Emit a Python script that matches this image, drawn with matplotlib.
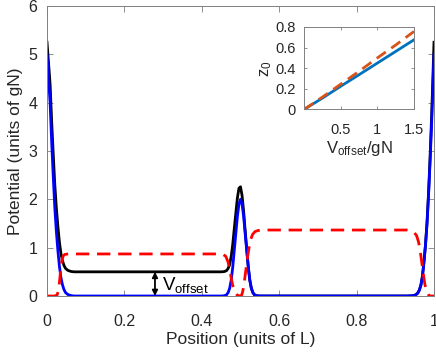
import matplotlib
matplotlib.use("Agg")
import matplotlib.pyplot as plt

plt.rcParams['font.family'] = ['Liberation Sans', 'DejaVu Sans']
plt.rcParams['mathtext.fontset'] = 'custom'
plt.rcParams['mathtext.rm'] = 'Liberation Sans'
plt.rcParams['mathtext.it'] = 'Liberation Sans'

# ---- main panel data ----
x_blue = [0.0, 0.004, 0.008, 0.012, 0.016, 0.020, 0.024, 0.028, 0.032, 0.036, 0.040, 0.044, 0.048,
          0.054, 0.062, 0.070,
          0.450, 0.458, 0.464, 0.468, 0.472, 0.476, 0.480, 0.484, 0.488, 0.492, 0.496, 0.500,
          0.504, 0.508, 0.512, 0.516, 0.520, 0.524, 0.528, 0.532, 0.536, 0.542, 0.550,
          0.930, 0.945, 0.952, 0.958, 0.962, 0.966, 0.970, 0.974, 0.978, 0.982, 0.986, 0.990,
          0.994, 0.997, 1.0]
v_blue = [5.0, 4.5, 4.0, 3.2, 2.5, 1.85, 1.35, 0.95, 0.62, 0.38, 0.23, 0.13, 0.07,
          0.03, 0.008, 0.0,
          0.0, 0.005, 0.025, 0.07, 0.16, 0.33, 0.6, 0.95, 1.3, 1.65, 1.9, 2.0,
          1.9, 1.65, 1.3, 0.95, 0.6, 0.33, 0.16, 0.07, 0.025, 0.005, 0.0,
          0.0, 0.005, 0.02, 0.06, 0.12, 0.22, 0.4, 0.7, 1.05, 1.5, 2.1, 2.8,
          3.6, 4.3, 5.0]

x_black = [0.0, 0.004, 0.008, 0.012, 0.016, 0.020, 0.024, 0.028, 0.032, 0.036, 0.040, 0.044, 0.048,
           0.054, 0.062, 0.070,
           0.450, 0.458, 0.464, 0.468, 0.472, 0.476, 0.480, 0.484, 0.488, 0.492, 0.496, 0.500,
           0.504, 0.508, 0.512, 0.516, 0.520, 0.524, 0.528, 0.532, 0.536, 0.542, 0.550,
           0.930, 0.945, 0.952, 0.958, 0.962, 0.966, 0.970, 0.974, 0.978, 0.982, 0.986, 0.990,
           0.994, 0.997, 1.0]
v_black = [5.25, 4.82, 4.38, 3.62, 2.95, 2.32, 1.84, 1.45, 1.12, 0.88, 0.73, 0.63, 0.57,
           0.53, 0.508, 0.5,
           0.5, 0.505, 0.525, 0.57, 0.65, 0.82, 1.07, 1.40, 1.72, 2.03, 2.23, 2.26,
           2.08, 1.76, 1.36, 0.98, 0.61, 0.33, 0.16, 0.07, 0.025, 0.005, 0.0,
           0.0, 0.005, 0.02, 0.06, 0.12, 0.22, 0.4, 0.7, 1.06, 1.53, 2.15, 2.9,
           3.75, 4.48, 5.25]

x_red = [0.0, 0.020, 0.026, 0.030, 0.033, 0.036, 0.039, 0.042, 0.046, 0.055,
         0.440, 0.455, 0.462, 0.468, 0.473, 0.479, 0.484, 0.490, 0.495, 0.500,
         0.503, 0.506, 0.510, 0.514, 0.518, 0.522, 0.526, 0.531, 0.537, 0.545, 0.560,
         0.930, 0.940, 0.948, 0.955, 0.960, 0.964, 0.968, 0.972, 0.976, 0.980, 0.985, 0.990, 1.0]
v_red = [0.0, 0.0, 0.02, 0.12, 0.35, 0.6, 0.76, 0.83, 0.86, 0.87,
         0.87, 0.86, 0.82, 0.7, 0.5, 0.25, 0.1, 0.03, 0.005, 0.0,
         0.02, 0.1, 0.3, 0.55, 0.8, 1.0, 1.16, 1.27, 1.33, 1.355, 1.365,
         1.365, 1.35, 1.32, 1.25, 1.12, 0.95, 0.72, 0.48, 0.26, 0.11, 0.03, 0.0, 0.0]

x_ticks = [0, 0.2, 0.4, 0.6, 0.8, 1]
x_ticklabels = ['0', '0.2', '0.4', '0.6', '0.8', '1']
y_ticks = [0, 1, 2, 3, 4, 5, 6]

# ---- inset data ----
vo = [0.0, 0.25, 0.5, 0.75, 1.0, 1.25, 1.5]
z0_blue = [0.0, 0.11, 0.225, 0.337, 0.45, 0.563, 0.676]
z0_orange = [0.0, 0.12, 0.245, 0.37, 0.5, 0.625, 0.757]
inset_xticks = [0.5, 1, 1.5]
inset_xticklabels = ['0.5', '1', '1.5']
inset_yticks = [0, 0.2, 0.4, 0.6, 0.8]
inset_yticklabels = ['0', '0.2', '0.4', '0.6', '0.8']

axcol = (0.15, 0.15, 0.15)
spinecol = (0.5, 0.5, 0.5)

fig = plt.figure(figsize=(4.36, 3.54), dpi=100)
ax = fig.add_axes([47/436, 58/354, 387/436, 290/354])

ax.plot(x_black, v_black, color='black', lw=2.0, solid_joinstyle='round')
ax.plot(x_blue, v_blue, color=(0, 0, 1), lw=2.0, solid_joinstyle='round')
ax.plot(x_red, v_red, color=(1, 0, 0), lw=2.0, dashes=(4.8, 2.8))

ax.set_xlim(0, 1)
ax.set_ylim(0, 6)
ax.set_xticks(x_ticks)
ax.set_xticklabels(x_ticklabels)
ax.set_yticks(y_ticks)
ax.tick_params(direction='in', length=4, width=0.6, colors=axcol, labelsize=11.5,
               top=True, right=True, color=spinecol)
ax.tick_params(axis='x', pad=13)
ax.tick_params(axis='y', pad=7)
for s in ax.spines.values():
    s.set_color(spinecol)
    s.set_linewidth(0.7)
ax.set_xlabel('Position (units of L)', fontsize=12.5, color=axcol, labelpad=2)
ax.set_ylabel('Potential (units of gN)', fontsize=12.5, color=axcol, labelpad=4)

# offset annotation
ax.annotate('', xy=(0.279, 0.0), xytext=(0.279, 0.5),
            arrowprops=dict(arrowstyle='<|-|>', color='black', lw=1.3,
                            mutation_scale=8, shrinkA=0, shrinkB=0))
ax.text(0.296, 0.12, r'V$_{\mathrm{offset}}$', fontsize=13.5, color='black',
        ha='left', va='baseline')

# inset
axi = fig.add_axes([304/436, (354-109.5)/354, 110/436, 82.5/354])
axi.plot(vo, z0_blue, color=(0, 0.447, 0.741), lw=2.0)
axi.plot(vo, z0_orange, color=(0.85, 0.325, 0.098), lw=2.0, dashes=(4.0, 2.4))
axi.set_xlim(0, 1.5)
axi.set_ylim(0, 0.8)
axi.set_xticks(inset_xticks)
axi.set_xticklabels(inset_xticklabels)
axi.set_yticks(inset_yticks)
axi.set_yticklabels(inset_yticklabels)
axi.tick_params(direction='in', length=2.5, width=0.6, colors=axcol, labelsize=10.5,
                top=True, right=True, color=spinecol)
axi.tick_params(axis='x', pad=10)
axi.tick_params(axis='y', pad=6)
for s in axi.spines.values():
    s.set_color(spinecol)
    s.set_linewidth(0.7)
axi.set_xlabel(r'V$_{\mathrm{offset}}$/gN', fontsize=12, color=axcol, labelpad=1)
axi.set_ylabel(r'z$_0$', fontsize=12, color=axcol, labelpad=1)

fig.savefig('out.png', dpi=100)
